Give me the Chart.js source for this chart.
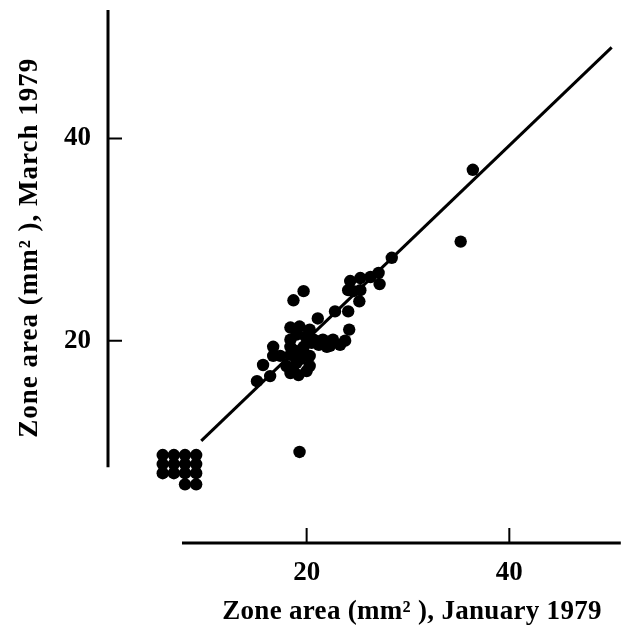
<!DOCTYPE html>
<html>
<head>
<meta charset="utf-8">
<script src="https://cdn.jsdelivr.net/npm/chart.js@4.4.1/dist/chart.umd.min.js"></script>
<style>
  html, body { margin: 0; padding: 0; background: #fff; }
  canvas { display: block; }
</style>
</head>
<body>
<canvas id="zoneChart" width="627" height="631"></canvas>
<script>
// Zone area, January 1979 (x) vs March 1979 (y), mm2
const janArea = [
    5.8, 6.9, 8.0, 9.1, 5.8, 6.9, 8.0, 9.1, 5.8, 6.9, 8.0, 9.1, 8.0, 9.1,
    19.3, 36.4, 35.2, 28.4,
    27.1, 27.2, 26.3, 25.3, 24.3, 24.1, 25.3, 25.2, 24.1, 22.8, 24.6,
    19.7, 18.7, 21.1, 24.2,
    18.4, 19.3, 20.3, 18.4, 20.7, 21.6, 22.6, 23.3, 22.0, 18.4, 19.7, 16.7,
    16.7, 15.7, 16.4, 15.1, 17.4, 18.4, 20.3, 20.3, 18.4, 19.2, 19.0, 19.7, 18.0,
    19.0, 19.9, 20.5, 21.2, 22.3, 23.8, 18.9, 19.4, 18.7, 20.0
];
const marArea = [
    8.7, 8.7, 8.7, 8.7, 7.8, 7.8, 7.8, 7.8, 6.9, 6.9, 6.9, 6.9, 5.8, 5.8,
    9.0, 36.9, 29.8, 28.2,
    26.7, 25.6, 26.3, 26.2, 25.9, 25.0, 25.0, 23.9, 22.9, 22.9, 24.9,
    24.9, 24.0, 22.2, 21.1,
    21.3, 21.4, 21.1, 20.1, 20.1, 20.1, 20.1, 19.6, 19.4, 19.4, 19.4, 19.4,
    18.5, 17.6, 16.5, 16.0, 18.5, 18.6, 18.5, 17.5, 16.8, 16.6, 17.8, 18.8, 17.5,
    20.6, 20.4, 19.8, 19.6, 19.5, 20.0, 19.0, 18.2, 17.0, 17.0
];

// fitted line end points
const fitX = [9.6, 50.1];
const fitY = [10.1, 49.0];

// axes
const xTicks = [20, 40];
const yTicks = [20, 40];
const xRange = [0.4, 51];
const yRange = [0, 52.7];
const xAxisSpan = [7.7, 51];   // drawn part of the x axis
const yAxisSpan = [7.5, 52.7]; // drawn part of the y axis
const xTitle = 'Zone area (mm\u00B2 ), January 1979';
const yTitle = 'Zone area (mm\u00B2 ), March 1979';

const serif = '"Liberation Serif", "Times New Roman", serif';

const points = janArea.map((x, i) => ({ x: x, y: marArea[i] }));
const fitLine = fitX.map((x, i) => ({ x: x, y: fitY[i] }));

// detached axes with inward ticks, plus the axis titles
const axesPlugin = {
    id: 'axesPlugin',
    afterDraw(chart) {
        const ctx = chart.ctx;
        const xs = chart.scales.x;
        const ys = chart.scales.y;
        const axisY = ys.getPixelForValue(yRange[0]);
        const axisX = xs.getPixelForValue(xRange[0]);

        ctx.save();
        ctx.strokeStyle = '#000';
        ctx.lineCap = 'butt';

        ctx.lineWidth = 3;
        ctx.beginPath();
        ctx.moveTo(xs.getPixelForValue(xAxisSpan[0]), axisY);
        ctx.lineTo(xs.getPixelForValue(xAxisSpan[1]), axisY);
        ctx.moveTo(axisX, ys.getPixelForValue(yAxisSpan[1]));
        ctx.lineTo(axisX, ys.getPixelForValue(yAxisSpan[0]));
        ctx.stroke();

        ctx.lineWidth = 2;
        ctx.beginPath();
        xTicks.forEach(v => {
            const px = xs.getPixelForValue(v);
            ctx.moveTo(px, axisY);
            ctx.lineTo(px, axisY - 15);
        });
        yTicks.forEach(v => {
            const py = ys.getPixelForValue(v);
            ctx.moveTo(axisX, py);
            ctx.lineTo(axisX + 14, py);
        });
        ctx.stroke();

        ctx.fillStyle = '#000';
        ctx.font = 'bold 27px ' + serif;
        ctx.textAlign = 'center';
        ctx.textBaseline = 'alphabetic';
        ctx.letterSpacing = '0.3px';
        ctx.fillText(xTitle, xs.getPixelForValue(30.4), axisY + 76);

        ctx.letterSpacing = '1px';
        ctx.translate(37, ys.getPixelForValue(29.2));
        ctx.rotate(-Math.PI / 2);
        ctx.fillText(yTitle, 0, 0);
        ctx.restore();
    }
};

new Chart(document.getElementById('zoneChart'), {
    type: 'scatter',
    data: {
        datasets: [
            {
                label: 'fit',
                data: fitLine,
                showLine: true,
                borderColor: '#000',
                borderWidth: 3,
                pointRadius: 0,
                fill: false,
                order: 2
            },
            {
                label: 'zones',
                data: points,
                backgroundColor: '#000',
                borderColor: '#000',
                borderWidth: 0,
                pointRadius: 6.2,
                order: 1
            }
        ]
    },
    options: {
        responsive: false,
        animation: false,
        layout: { padding: { top: 10, right: 6, left: 0, bottom: 0 } },
        scales: {
            x: {
                type: 'linear',
                min: xRange[0],
                max: xRange[1],
                afterBuildTicks: (scale) => { scale.ticks = xTicks.map(v => ({ value: v })); },
                afterFit: (scale) => {
                    scale.height = 88;
                    scale.paddingLeft = 0;
                    scale.paddingRight = 0;
                },
                grid: { display: false, drawTicks: false },
                border: { display: false },
                ticks: {
                    color: '#000',
                    padding: 14,
                    font: { family: serif, size: 27, weight: 'bold' }
                }
            },
            y: {
                type: 'linear',
                min: yRange[0],
                max: yRange[1],
                afterBuildTicks: (scale) => { scale.ticks = yTicks.map(v => ({ value: v })); },
                afterFit: (scale) => {
                    scale.width = 108;
                    scale.paddingTop = 0;
                    scale.paddingBottom = 0;
                },
                grid: { display: false, drawTicks: false },
                border: { display: false },
                ticks: {
                    color: '#000',
                    padding: 17,
                    font: { family: serif, size: 27, weight: 'bold' }
                }
            }
        },
        plugins: {
            legend: { display: false },
            tooltip: { enabled: false }
        }
    },
    plugins: [axesPlugin]
});
</script>
</body>
</html>
